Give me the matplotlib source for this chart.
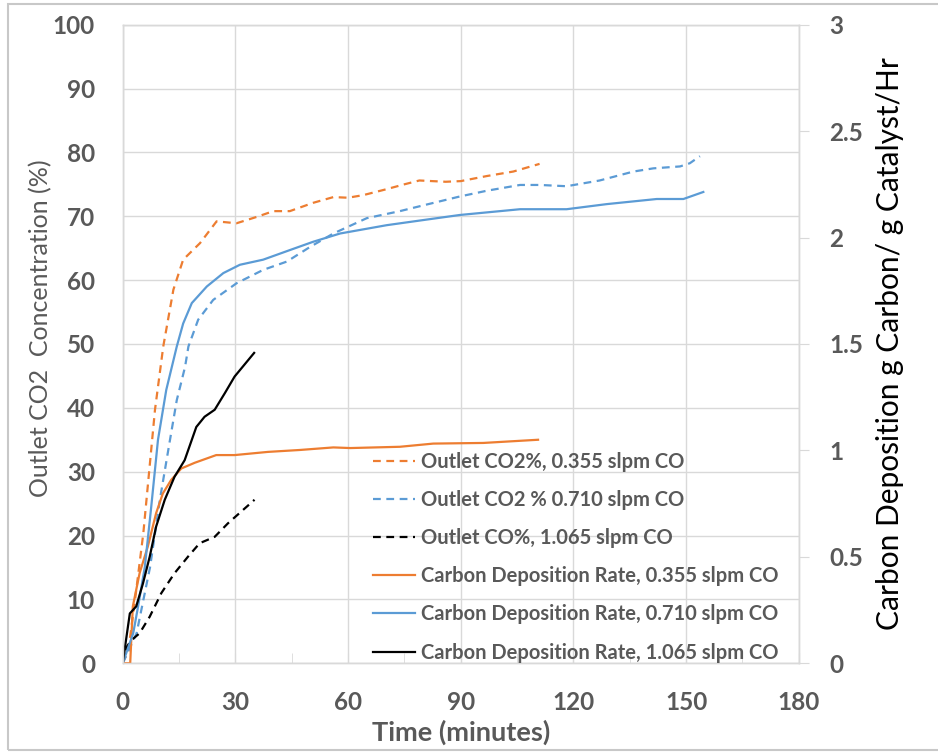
import matplotlib.pyplot as plt
from matplotlib.patches import Rectangle
from matplotlib.ticker import MultipleLocator

plt.rcParams['font.family'] = ['Lato', 'DejaVu Sans']
plt.rcParams['font.weight'] = 'bold'

# outlet gas concentration (left axis, %)
t_co2_0355 = [0, 1.5, 3.3, 5.5, 8.6, 10.8, 13.5, 16.1, 20.6, 25, 30.3, 35.7, 40.1, 44.5, 50.7,
              56.1, 60, 64, 70, 75, 79, 86, 90, 97, 104, 111]
co2_0355 = [0, 2, 10, 20.4, 39.7, 49.6, 58.5, 63.2, 65.8, 69.2, 68.9, 69.9, 70.8, 70.8, 72.1,
            73, 72.9, 73.3, 74.2, 75, 75.6, 75.4, 75.5, 76.3, 77, 78.2]

t_co2_0710 = [0, 3.7, 7.3, 9.9, 12.6, 14.4, 16.6, 17.5, 20.1, 24.1, 30.3, 37.4, 43.7, 49.9, 56.1,
              65, 73.8, 80, 89.8, 97, 105.8, 111.1, 118.2, 127, 136, 141.3, 148.4, 151, 153.7]
co2_0710 = [0, 4.7, 15.1, 25.6, 35, 41.2, 46.4, 49.6, 53.8, 56.9, 59.5, 61.6, 62.9, 65.2, 67.3,
            69.7, 70.8, 71.7, 73.1, 74, 74.9, 74.9, 74.7, 75.6, 77, 77.5, 77.8, 78.3, 79.4]

t_co_1065 = [0, 1.1, 2.3, 4.5, 7.2, 10.3, 13.8, 17.4, 20.5, 24.5, 28, 35.1]
co_1065 = [0, 2.6, 3.6, 4.7, 7.3, 11, 14.1, 16.7, 18.8, 19.8, 21.9, 25.6]

# carbon deposition rate (right axis, g C / g cat / hr)
t_dep_0355 = [0, 2, 2.7, 4.5, 6.7, 8.9, 10.7, 12.9, 15.6, 19.2, 24.9, 29.8, 38.7, 47.2, 56.1,
              60.6, 73.8, 82.7, 96, 110.6]
dep_0355 = [0, 0, 0.267, 0.423, 0.549, 0.705, 0.798, 0.861, 0.915, 0.942, 0.978, 0.978, 0.993,
            1.002, 1.014, 1.011, 1.017, 1.032, 1.035, 1.05]

t_dep_0710 = [0, 2.8, 4.1, 5.9, 7.6, 9.4, 11.6, 14.4, 16.1, 18.4, 22.4, 26.8, 31.2, 37.4, 44.5,
              50.7, 57.9, 70.3, 80, 89.8, 105.8, 118.2, 128.9, 142.2, 149.3, 154.6]
dep_0710 = [0, 0.141, 0.267, 0.453, 0.735, 1.05, 1.284, 1.488, 1.596, 1.692, 1.77, 1.833, 1.872,
            1.896, 1.941, 1.98, 2.019, 2.058, 2.082, 2.106, 2.133, 2.133, 2.157, 2.181, 2.181,
            2.214]

t_dep_1065 = [0, 1.9, 3.6, 5.4, 7.2, 8.9, 11.2, 13.8, 16.5, 19.6, 21.8, 24.5, 27.2, 29.8, 35]
dep_1065 = [0, 0.234, 0.267, 0.375, 0.501, 0.642, 0.768, 0.876, 0.954, 1.11, 1.158, 1.191,
            1.269, 1.347, 1.458]

orange = '#ED7D31'
blue = '#5B9BD5'
grey = '#595959'
grid_c = '#d9d9d9'

fig = plt.figure(figsize=(9.38, 7.52), dpi=100)
fig.patches.append(Rectangle((8 / 938, 2 / 752), 2, 746 / 752, transform=fig.transFigure,
                             fill=False, edgecolor='#c8c8c8', lw=1.5))
ax = fig.add_axes([0.1308, 0.1180, 0.7207, 0.8492])
ax2 = ax.twinx()

dash = (3.5, 2.5)
l1, = ax.plot(t_co2_0355, co2_0355, color=orange, lw=1.6, dashes=dash,
              label='Outlet CO2%, 0.355 slpm CO')
l2, = ax.plot(t_co2_0710, co2_0710, color=blue, lw=1.6, dashes=dash,
              label='Outlet CO2 % 0.710 slpm CO')
l3, = ax.plot(t_co_1065, co_1065, color='black', lw=1.6, dashes=dash,
              label='Outlet CO%, 1.065 slpm CO')
l4, = ax2.plot(t_dep_0355, dep_0355, color=orange, lw=1.6,
               label='Carbon Deposition Rate, 0.355 slpm CO')
l5, = ax2.plot(t_dep_0710, dep_0710, color=blue, lw=1.6,
               label='Carbon Deposition Rate, 0.710 slpm CO')
l6, = ax2.plot(t_dep_1065, dep_1065, color='black', lw=1.6,
               label='Carbon Deposition Rate, 1.065 slpm CO')

ax.set_xlim(0, 180)
ax.set_ylim(0, 100)
ax2.set_ylim(0, 3)
ax.xaxis.set_major_locator(MultipleLocator(30))
ax.xaxis.set_minor_locator(MultipleLocator(15))
ax.yaxis.set_major_locator(MultipleLocator(10))
ax2.set_yticks([0, 0.5, 1, 1.5, 2, 2.5, 3], ['0', '0.5', '1', '1.5', '2', '2.5', '3'])

ax.grid(True, color=grid_c, lw=1)
ax.set_axisbelow(True)
for a in (ax, ax2):
    for s in a.spines.values():
        s.set_color(grid_c)
        s.set_linewidth(1)

ax.tick_params(axis='x', which='both', direction='in', color=grid_c, length=7, pad=20,
               labelsize=17.5, labelcolor=grey)
ax.tick_params(axis='y', length=0, pad=20, labelsize=17.5, labelcolor=grey)
ax2.tick_params(axis='y', direction='out', color=grid_c, length=7, pad=15, labelsize=17.5,
                labelcolor=grey)

ax.set_xlabel('Time (minutes)', fontsize=19.5, fontweight='bold', color=grey, labelpad=4)
ax.set_ylabel('Outlet CO2  Concentration (%)', fontsize=18, fontweight='normal', color=grey)
ax.yaxis.set_label_coords(-0.104, 0.525)
ax2.set_ylabel('Carbon Deposition g Carbon/ g Catalyst/Hr', fontsize=21.5, fontweight='normal',
               color='black', labelpad=9)

leg = ax2.legend(handles=[l1, l2, l3, l4, l5, l6], loc='upper left',
                 bbox_to_anchor=(373 / 938, 1 - 452 / 752), bbox_transform=fig.transFigure,
                 frameon=False, fontsize=14.5, handlelength=2.1, handletextpad=0.3,
                 labelspacing=0.9, borderaxespad=0, borderpad=0)
for txt in leg.get_texts():
    txt.set_color(grey)

fig.savefig('out.png', dpi=100)
